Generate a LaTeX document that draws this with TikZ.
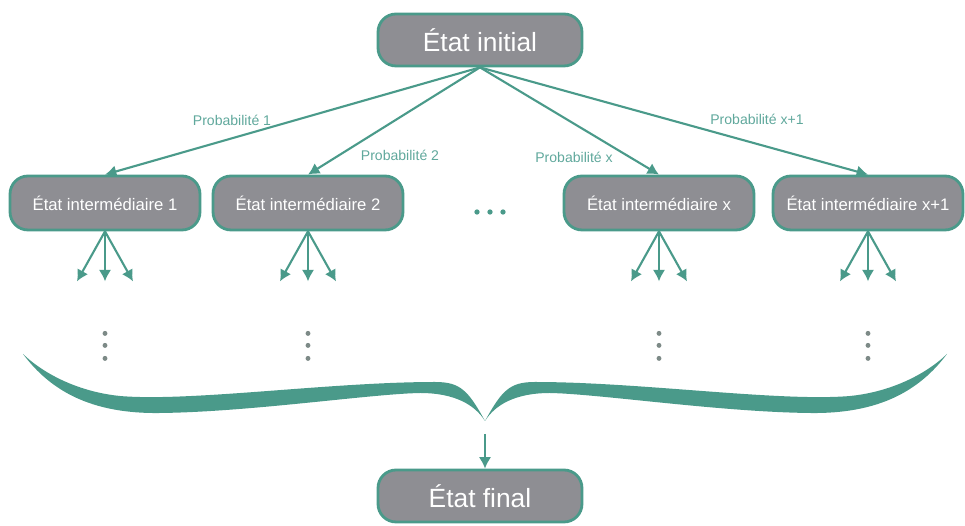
\documentclass[tikz,border=0pt]{standalone}
\usepackage{fontspec}
\setmainfont{Liberation Sans}
\usetikzlibrary{arrows.meta}
\definecolor{stateteal}{RGB}{74,154,138}
\definecolor{stategray}{RGB}{142,142,147}
\definecolor{labelteal}{RGB}{96,168,156}
\definecolor{dotgray}{RGB}{125,138,135}

\begin{document}
\begin{tikzpicture}[
x=0.02cm,y=-0.02cm,
state/.style={
draw=stateteal,
line width=1.6pt,
fill=stategray,
rounded corners=0.36cm,
text=white,
align=center,
inner sep=0pt
},
bigstate/.style={state,minimum width=4.08cm,minimum height=1.04cm,font=\fontsize{15}{18}\selectfont},
midstate/.style={state,minimum width=3.8cm,minimum height=1.08cm,font=\fontsize{9.5}{11}\selectfont},
prob/.style={text=labelteal,font=\fontsize{8}{10}\selectfont},
link/.style={->,draw=stateteal,line width=1.2pt},
>={Latex[length=6.5pt,width=7pt]}
]

\useasboundingbox (0,0) rectangle (965,526);

\node[bigstate] (initial) at (480,40){État initial};

\node[midstate] (inter1) at (105,203){État intermédiaire 1};
\node[midstate] (inter2) at (308,203){État intermédiaire 2};
\node[midstate] (interx) at (659,203){État intermédiaire x};
\node[midstate] (interxp) at (868,203){État intermédiaire x+1};

\node[bigstate] (final) at (480,496){État final};

\draw[link](initial.south)--(inter1.north);
\draw[link](initial.south)--(inter2.north);
\draw[link](initial.south)--(interx.north);
\draw[link](initial.south)--(interxp.north);

\node[prob] (prob1) at (232,120){Probabilité 1};
\node[prob] (prob2) at (400,155){Probabilité 2};
\node[prob] (probx) at (574,157){Probabilité x};
\node[prob] (probxp) at (757,119){Probabilité x+1};

% dots between the middle states
\foreach \ex in {477,490,503}
\fill[stateteal] (\ex,212) circle[radius=1.5pt];

% branches and dots under each state
\foreach \s in {inter1,inter2,interx,interxp}{
\foreach \dx/\k in {-28/l,0/m,28/r}{
\path (\s.south) ++(\dx,50) coordinate (\s\k);
\draw[link](\s.south)--(\s\k);
}
\foreach \dy in {102,114,127}
\fill[dotgray] (\s.south) ++(0,\dy) circle[radius=1.4pt];
}

% brace
\foreach \mirror in {1,-1}{
\begin{scope}[shift={(485,0)},xscale=\mirror]
\fill[stateteal] (0,421) .. controls (-17,390) and (-25,382) .. (-50,382)
.. controls (-155,382) and (-295,402) .. (-365,396)
.. controls (-405,392) and (-440,375) .. (-462,354)
.. controls (-435,390) and (-395,414) .. (-325,413)
.. controls (-235,412) and (-115,394) .. (-65,393)
.. controls (-30,393) and (-10,405) .. (0,421) -- cycle;
\end{scope}
}

\coordinate (bracetip) at (485,434);
\draw[link](bracetip)--(bracetip |- final.north);

\end{tikzpicture}
\end{document}
